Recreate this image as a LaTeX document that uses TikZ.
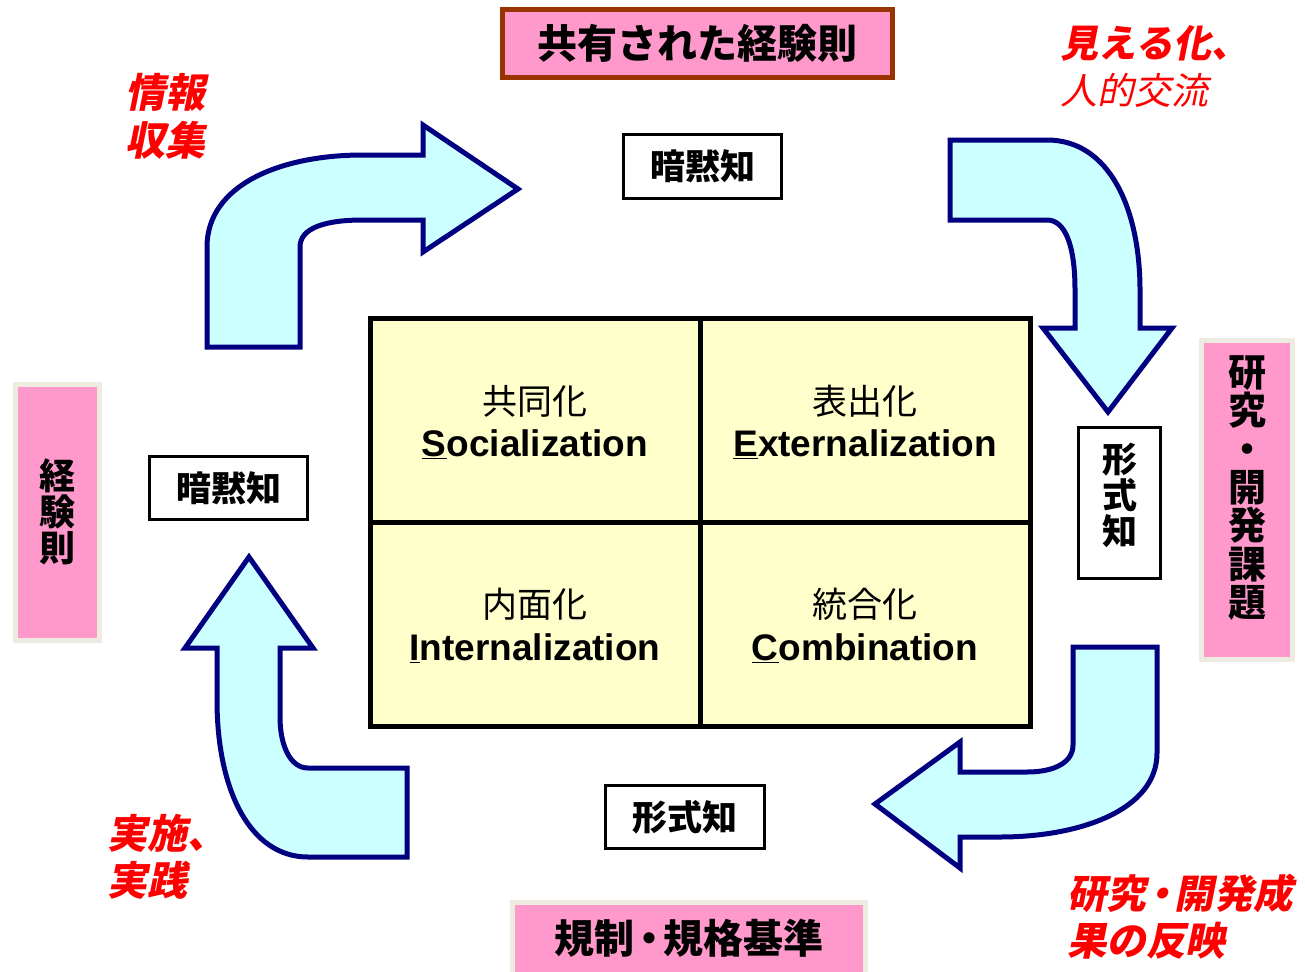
\documentclass[tikz,border=0pt]{standalone}
\usepackage{fontspec}
\setmainfont{Liberation Sans}
\newfontfamily\jp{Noto Sans CJK JP}
\newfontfamily\jpit{Noto Sans CJK JP}[FakeSlant=0.2]
\newcommand\fsz[2]{\fontsize{#1}{#2}\selectfont}
\newcommand\ndot{\kern-0.14em・\kern-0.14em}
\definecolor{pinkfill}{HTML}{FF99CC}
\definecolor{brownline}{HTML}{993300}
\definecolor{grayline}{HTML}{EEECE1}
\definecolor{cyanfill}{HTML}{CCFFFF}
\definecolor{navyline}{HTML}{000080}
\definecolor{cellfill}{HTML}{FFFFCC}
\definecolor{redtext}{HTML}{FF0000}
\tikzset{
  pinkbox/.style={draw=grayline, line width=5pt, fill=pinkfill, inner sep=0pt, align=center},
  knowbox/.style={draw=black, line width=3pt, fill=white, inner sep=0pt, align=center, font=\jp\bfseries\fsz{35}{36}},
  bendarrow/.style={draw=navyline, fill=cyanfill, line width=5pt, line join=miter},
  celljp/.style={font=\jp\fsz{35}{36}},
  cellen/.style={font=\bfseries\fsz{37}{40}},
  redlabel/.style={anchor=west, align=left, text=redtext, inner sep=0pt},
}
\begin{document}
\begin{tikzpicture}[x=1pt,y=-1pt]
\useasboundingbox (0,0) rectangle (1305,971);
\fill[white] (0,0) rectangle (1305,971);

% curved arrows
\draw[bendarrow] (207,347) -- (207,247) .. controls (207,185) and (280,155) .. (363,155)
  -- (423,155) -- (423,125) -- (518,189) -- (423,252) -- (423,220) -- (363,220)
  .. controls (325,220) and (300,228) .. (300,247) -- (300,347) -- cycle;
\draw[bendarrow] (950,140) -- (1047,140) .. controls (1110,140) and (1140,210) .. (1140,290)
  -- (1140,328) -- (1172,328) -- (1108,412) -- (1043,328) -- (1075,328) -- (1075,290)
  .. controls (1075,245) and (1065,220) .. (1047,220) -- (950,220) -- cycle;
\draw[bendarrow] (1073,647) -- (1157,647) -- (1157,753) .. controls (1157,810) and (1080,837) .. (1000,837)
  -- (960,837) -- (960,868) -- (875,804) -- (960,742) -- (960,772) -- (1027,772)
  .. controls (1055,772) and (1073,762) .. (1073,745) -- cycle;
\draw[bendarrow] (407,768) -- (407,857) -- (308,857) .. controls (250,857) and (217,790) .. (217,700)
  -- (217,648) -- (185,648) -- (249,557) -- (313,648) -- (280,648) -- (280,717)
  .. controls (280,745) and (290,768) .. (308,768) -- cycle;

% central grid
\draw[line width=5pt, fill=cellfill] (370,318) rectangle (1030,726);
\draw[line width=5pt] (700,318) -- (700,726);
\draw[line width=5pt] (370,522) -- (1030,522);
\node[celljp] (sjp) at (535,401) {共同化};
\node[cellen] (sen) at (535,444) {\underline{S}ocialization};
\node[celljp] (ejp) at (865,401) {表出化};
\node[cellen] (een) at (865,444) {\underline{E}xternalization};
\node[celljp] (ijp) at (535,604) {内面化};
\node[cellen] (ien) at (535,648) {\underline{I}nternalization};
\node[celljp] (cjp) at (865,604) {統合化};
\node[cellen] (cen) at (865,648) {\underline{C}ombination};

% pink boxes
\node[pinkbox, draw=brownline, minimum width=390pt, minimum height=68pt, font=\jp\bfseries\fsz{40}{40}] (top) at (697.5,43.5) {共有された経験則};
\node[pinkbox, minimum width=84pt, minimum height=256pt] (left) at (57.5,512.5) {};
\node[font=\jp\bfseries\fsz{36}{36}, align=center] (lefttext) at (57.5,512) {経\\験\\則};
\node[pinkbox, minimum width=91pt, minimum height=319pt] (right) at (1247,500) {};
\node[font=\jp\bfseries\fsz{38}{38.3}, align=center] (righttext) at (1247,488) {研\\究\\・\\開\\発\\課\\題};
\node[pinkbox, minimum width=353pt, minimum height=77pt] (bottom) at (689,941) {};
\node[font=\jp\bfseries\fsz{40}{40}] (bottomtext) at (689,938) {規制\ndot 規格基準};

% knowledge boxes
\node[knowbox, minimum width=158pt, minimum height=64pt] (tacittop) at (702.5,166.5) {暗黙知};
\node[knowbox, minimum width=158pt, minimum height=63pt] (tacitleft) at (228.5,488) {暗黙知};
\node[knowbox, minimum width=82pt, minimum height=151pt] (explright) at (1119.5,503) {};
\node[font=\jp\bfseries\fsz{35}{36}, align=center] (explrighttext) at (1119.5,495) {形\\式\\知};
\node[knowbox, minimum width=159pt, minimum height=63pt] (explbottom) at (685,817) {形式知};

% red labels
\node[redlabel, font=\jpit\bfseries\fsz{40}{48}] (info) at (125,116) {情報\\収集};
\node[redlabel, font=\jpit\fsz{37}{47}] (visual) at (1060,67) {{\bfseries\fsz{38}{47}見える化、}\\人的交流};
\node[redlabel, font=\jpit\bfseries\fsz{40}{47}] (practice) at (107,857) {実施、\\実践};
\node[redlabel, font=\jpit\bfseries\fsz{39.5}{47}] (reflect) at (1067,917) {研究\ndot 開発成\\果の反映};
\end{tikzpicture}
\end{document}
